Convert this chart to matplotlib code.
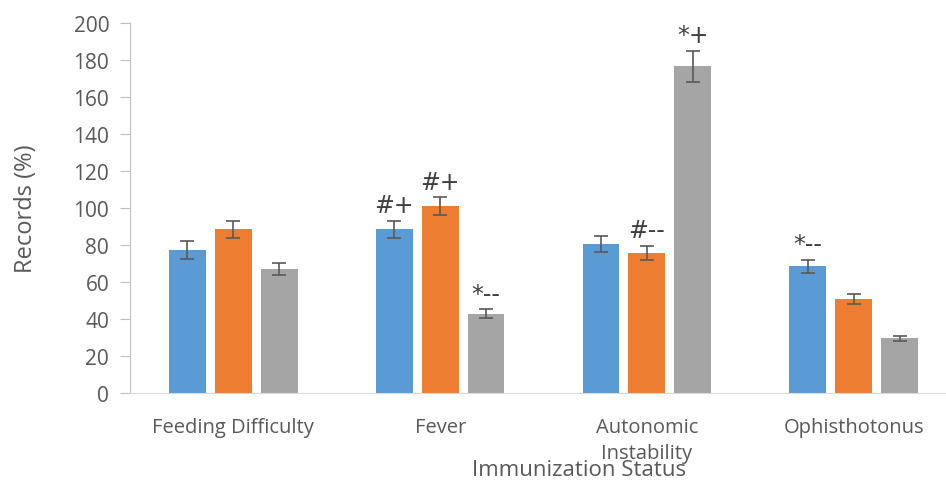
import matplotlib
matplotlib.use("Agg")
import matplotlib.pyplot as plt
import numpy as np

plt.rcParams['font.family'] = ['Open Sans', 'DejaVu Sans']

categories = ["Feeding Difficulty", "Fever", "Autonomic\nInstability", "Ophisthotonus"]
series1 = [77.3, 88.6, 80.6, 68.4]
series2 = [88.6, 100.9, 75.8, 50.8]
series3 = [67.0, 42.8, 176.6, 29.5]
err1 = [4.6, 4.6, 4.2, 3.4]
err2 = [4.6, 4.9, 3.7, 2.9]
err3 = [3.2, 2.4, 8.5, 1.5]
notes1 = ["", "#+", "", "*--"]
notes2 = ["", "#+", "#--", ""]
notes3 = ["", "*--", "*+", ""]
yticks = [0, 20, 40, 60, 80, 100, 120, 140, 160, 180, 200]

colors = ["#5B9BD5", "#ED7D31", "#A5A5A5"]

fig = plt.figure(figsize=(9.46, 4.85), dpi=100)
ax = fig.add_axes([130/946, 91/485, 827/946, 370/485])

x = np.arange(len(categories))
w = 0.178
off = 0.222
ecol = "#595959"
for i, (vals, errs, notes) in enumerate(zip([series1, series2, series3], [err1, err2, err3], [notes1, notes2, notes3])):
    pos = x + (i - 1) * off
    ax.bar(pos, vals, width=w, color=colors[i], zorder=2)
    ax.errorbar(pos, vals, yerr=errs, fmt='none', ecolor=ecol, elinewidth=1.2,
                capsize=5, capthick=1.2, zorder=3)
    for p, v, e, n in zip(pos, vals, errs, notes):
        if n:
            ax.text(p, v + e + 2, n, ha='center', va='bottom', fontsize=17,
                    color="#404040", family=['DejaVu Sans'])

ax.set_xlim(-0.5, len(categories) - 0.5)
ax.set_ylim(0, 200)
ax.set_yticks(yticks)
ax.set_xticks(x)
ax.set_xticklabels(categories, fontsize=14.5, color="#595959", linespacing=1.45)
ax.tick_params(axis='x', length=0, pad=17)
ax.tick_params(axis='y', length=7, color="#BFBFBF", labelsize=15, labelcolor="#595959", pad=8)
for s in ['top', 'right']:
    ax.spines[s].set_visible(False)
ax.spines['left'].set_color("#BFBFBF")
ax.spines['bottom'].set_color("#D9D9D9")
ax.set_ylabel("Records (%)", fontsize=17, color="#595959")
ax.yaxis.set_label_coords(-(130 - 38) / 827, 0.5)
fig.text(579/946, 1 - 471/485, "Immunization Status", ha='center', va='center',
         fontsize=16, color="#595959")

fig.savefig("out.png", dpi=100)
